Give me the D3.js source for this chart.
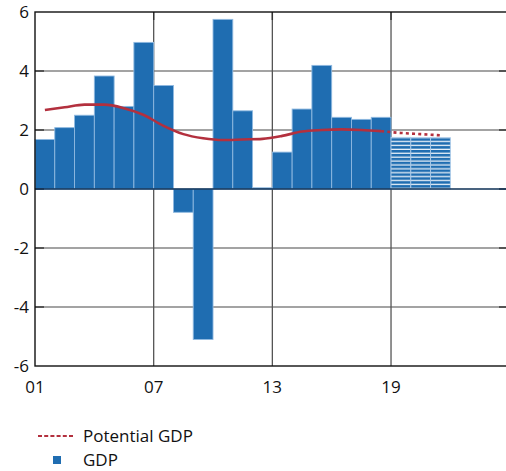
<!DOCTYPE html>
<html>
<head>
<meta charset="utf-8">
<script src="https://cdn.jsdelivr.net/npm/d3@7/dist/d3.min.js"></script>
<style>
  html, body { margin: 0; padding: 0; background: #fff; }
  svg { display: block; }
  text { font-family: "Open Sans", sans-serif; fill: #111; }
</style>
</head>
<body>
<svg id="chart" width="506" height="471"></svg>
<script>
// Annual GDP growth (%), outturn and forecast, with potential GDP growth.
const years      = [2001, 2002, 2003, 2004, 2005, 2006, 2007, 2008, 2009, 2010, 2011, 2012, 2013, 2014, 2015, 2016, 2017, 2018];
const gdp        = [1.68, 2.08, 2.50, 3.83, 2.80, 4.97, 3.51, -0.79, -5.10, 5.75, 2.65, 0.04, 1.25, 2.71, 4.19, 2.43, 2.36, 2.43];
const fcYears    = [2019, 2020, 2021];
const gdpFc      = [1.75, 1.74, 1.74];
const potYears   = [2001.5, 2002.5, 2003.5, 2004.5, 2005.5, 2006.5, 2007.5, 2008.5, 2009.5, 2010.5, 2011.5, 2012.5, 2013.5, 2014.5, 2015.5, 2016.5, 2017.5, 2018.5];
const potential  = [2.68, 2.77, 2.86, 2.86, 2.74, 2.51, 2.14, 1.86, 1.72, 1.66, 1.68, 1.70, 1.80, 1.95, 2.00, 2.02, 2.00, 1.96];
const potFcYears = [2018.5, 2019.5, 2020.5, 2021.5];
const potentialFc = [1.96, 1.90, 1.86, 1.82];
const xTicks      = [2001, 2007, 2013, 2019];
const xTickLabels = ["01", "07", "13", "19"];
const yTicks      = [-6, -4, -2, 0, 2, 4, 6];

const BLUE = "#1f6db1";
const RED = "#b3303e";

const svg = d3.select("#chart");
const plotL = 35, plotR = 509.7, plotT = 12, plotB = 366;

const x = d3.scaleLinear().domain([2001, 2025]).range([plotL, plotR]);
const y = d3.scaleLinear().domain([-6, 6]).range([plotB, plotT]);

// striped fill for forecast bars
const defs = svg.append("defs");
const pat = defs.append("pattern")
  .attr("id", "stripes")
  .attr("patternUnits", "userSpaceOnUse")
  .attr("width", 8).attr("height", 3.9)
  .attr("y", y(0));
pat.append("rect").attr("width", 8).attr("height", 3.9).attr("fill", BLUE);
pat.append("rect").attr("y", 2.6).attr("width", 8).attr("height", 1.3).attr("fill", "#e8f0f8");

// grid
const grid = svg.append("g");
grid.selectAll("line.h")
  .data(yTicks.filter(v => v !== 0 && v !== 6 && v !== -6))
  .join("line")
  .attr("x1", plotL).attr("x2", plotR)
  .attr("y1", d => y(d)).attr("y2", d => y(d))
  .attr("stroke", "#858585").attr("stroke-width", 1.4);
grid.selectAll("line.v")
  .data(xTicks.slice(1))
  .join("line")
  .attr("x1", d => x(d)).attr("x2", d => x(d))
  .attr("y1", plotT).attr("y2", plotB)
  .attr("stroke", "#555").attr("stroke-width", 1.3);

// bars
svg.append("g").selectAll("rect")
  .data(years.map((yr, i) => ({ yr, v: gdp[i] })))
  .join("rect")
  .attr("x", d => x(d.yr))
  .attr("width", d => x(d.yr + 1) - x(d.yr))
  .attr("y", d => y(Math.max(0, d.v)))
  .attr("height", d => Math.abs(y(d.v) - y(0)))
  .attr("fill", BLUE)
  .attr("stroke", "#8fb9e0").attr("stroke-width", 0.9);

svg.append("g").selectAll("rect")
  .data(fcYears.map((yr, i) => ({ yr, v: gdpFc[i] })))
  .join("rect")
  .attr("x", d => x(d.yr))
  .attr("width", d => x(d.yr + 1) - x(d.yr))
  .attr("y", d => y(Math.max(0, d.v)))
  .attr("height", d => Math.abs(y(d.v) - y(0)))
  .attr("fill", "url(#stripes)")
  .attr("stroke", "#a9c9e8").attr("stroke-width", 0.9);

// inward ticks
const ticks = svg.append("g").attr("stroke", "#333").attr("stroke-width", 1.4);
yTicks.filter(v => v !== 6 && v !== -6).forEach(v => {
  ticks.append("line").attr("x1", plotL).attr("x2", plotL + 9).attr("y1", y(v)).attr("y2", y(v));
  ticks.append("line").attr("x1", 499).attr("x2", plotR).attr("y1", y(v)).attr("y2", y(v));
});
xTicks.slice(1).forEach(t => {
  ticks.append("line").attr("x1", x(t)).attr("x2", x(t)).attr("y1", plotT).attr("y2", plotT + 8);
});

// zero line and frame
svg.append("line")
  .attr("x1", plotL).attr("x2", plotR)
  .attr("y1", y(0)).attr("y2", y(0))
  .attr("stroke", "#0d2f55").attr("stroke-width", 1.3);
svg.append("rect")
  .attr("x", plotL).attr("y", plotT)
  .attr("width", plotR - plotL).attr("height", plotB - plotT)
  .attr("fill", "none").attr("stroke", "#111").attr("stroke-width", 1.4);

// potential GDP
const line = d3.line().x(d => x(d[0])).y(d => y(d[1])).curve(d3.curveMonotoneX);
svg.append("path")
  .datum(potYears.map((t, i) => [t, potential[i]]))
  .attr("d", line)
  .attr("fill", "none").attr("stroke", RED).attr("stroke-width", 2.6);
svg.append("path")
  .datum(potFcYears.map((t, i) => [t, potentialFc[i]]))
  .attr("d", line)
  .attr("fill", "none").attr("stroke", RED).attr("stroke-width", 2.6)
  .attr("stroke-dasharray", "3,3.2");

// axis labels
svg.append("g").selectAll("text")
  .data(yTicks)
  .join("text")
  .attr("x", 29).attr("y", d => y(d) + 6)
  .attr("text-anchor", "end")
  .attr("font-size", 17)
  .text(d => d);

svg.append("g").selectAll("text")
  .data(xTicks)
  .join("text")
  .attr("x", d => x(d)).attr("y", 393)
  .attr("text-anchor", "middle")
  .attr("font-size", 17)
  .text((d, i) => xTickLabels[i]);

// legend
const lg = svg.append("g");
lg.append("line")
  .attr("x1", 38).attr("x2", 74).attr("y1", 436).attr("y2", 436)
  .attr("stroke", RED).attr("stroke-width", 2).attr("stroke-dasharray", "4,2.2");
lg.append("text").attr("x", 83).attr("y", 442).attr("font-size", 17).text("Potential GDP");
lg.append("rect").attr("x", 53).attr("y", 456).attr("width", 8).attr("height", 8).attr("fill", BLUE);
lg.append("text").attr("x", 83).attr("y", 466).attr("font-size", 17).text("GDP");
</script>
</body>
</html>
